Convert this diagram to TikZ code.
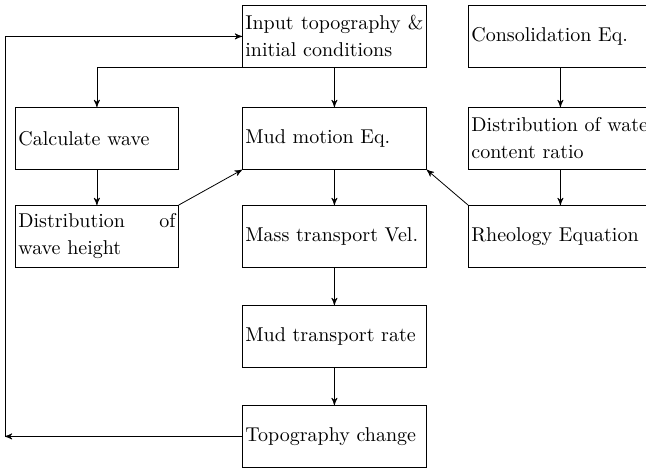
\documentclass[tikz,border=0pt]{standalone}
\usepackage{tikz}
\usetikzlibrary{arrows,positioning}

\begin{document}
\begin{tikzpicture}[x=0.5pt,y=-0.5pt,>=stealth',
  box/.style={draw, anchor=north west, minimum height=31pt, inner xsep=1.5pt,
    text width=89pt, align=justify, font=\fontsize{10}{13.5}\selectfont},
  narrow/.style={box, text width=78.5pt}]
\clip (0,0) rectangle (646,468);
% middle column
\node[box] (input) at (242,5)   {Input topography \& initial conditions};
\node[box] (mud)   at (242,107) {Mud motion Eq.};
\node[box] (mass)  at (242,205) {Mass transport Vel.};
\node[box] (rate)  at (242,305) {Mud transport rate};
\node[box] (topo)  at (242,405) {Topography change};
% left column
\node[narrow] (calc) at (15,107) {Calculate wave};
\node[narrow] (dist) at (15,205) {Distribution of wave height};
% right column (cut at the edge)
\node[box] (cons)  at (468,5)   {Consolidation Eq.};
\node[box] (water) at (468,107) {\makebox[89pt][l]{Distribution of water}\\content ratio};
\node[box] (rheo)  at (468,205) {Rheology Equation};
\coordinate (fbx) at (5,0);

\draw[->] (input.south) -- (mud.north);
\draw[->] (input.south west) -| (calc.north);
\draw[->] (calc.south) -- (dist.north);
\draw[->] (dist.north east) -- (mud.south west);
\draw[->] (cons.south) -- (water.north);
\draw[->] (water.south) -- (rheo.north);
\draw[->] (rheo.north west) -- (mud.south east);
\draw[->] (mud.south) -- (mass.north);
\draw[->] (mass.south) -- (rate.north);
\draw[->] (rate.south) -- (topo.north);
% feedback loop
\draw[->] (topo.west) -- (topo.west -| fbx);
\draw[->] (topo.west -| fbx) |- (input.west);
\end{tikzpicture}
\end{document}
